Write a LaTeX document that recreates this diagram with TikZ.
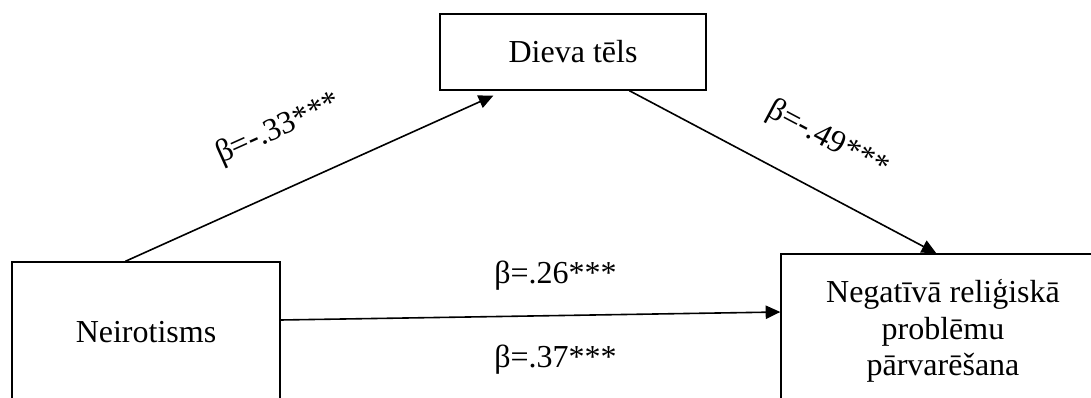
\documentclass[tikz,border=0pt]{standalone}
\usepackage{fontspec}
\setmainfont{Liberation Serif}
\usetikzlibrary{arrows.meta, calc}

\begin{document}
\begin{tikzpicture}[x=0.75pt, y=-0.75pt,
    var/.style={rectangle, draw=black, line width=1pt, align=center, font=\fontsize{24}{27.4}\selectfont},
    arrow/.style={-{Triangle[length=11pt, width=10pt]}, line width=1.2pt},
    coef/.style={font=\fontsize{24}{27.4}\selectfont, inner sep=0pt}
]
\useasboundingbox (0,0) rectangle (1091,398);
\clip (0,0) rectangle (1091,398);

% Variables
\node[var, minimum width=199.5pt, minimum height=57pt] (god) at (573, 52) {Dieva tēls};
\node[var, minimum width=201pt, minimum height=105pt] (neiro) at (146, 332) {Neirotisms};
\node[var, minimum width=243pt, minimum height=115.5pt] (coping) at (943, 331) {Negatīvā reliģiskā\\problēmu\\pārvarēšana};

% Paths
\draw[arrow] ($(neiro.north west)+(114,0)$) -- node[coef, sloped, pos=0.48, yshift=43pt] {β=-.33***} ($(god.south west)+(54,5)$);
\draw[arrow] ($(god.south west)+(190,0)$) -- node[coef, sloped, pos=0.57, yshift=37pt] {β=-.49***} ($(coping.north west)+(156,0)$);
\draw[arrow] ($(neiro.east)+(0,-12)$) --
    node[coef, pos=0.55, yshift=30pt] {β=.26***}
    node[coef, pos=0.55, yshift=-33pt] {β=.37***}
    ($(coping.west)+(0,-19)$);

\end{tikzpicture}
\end{document}
